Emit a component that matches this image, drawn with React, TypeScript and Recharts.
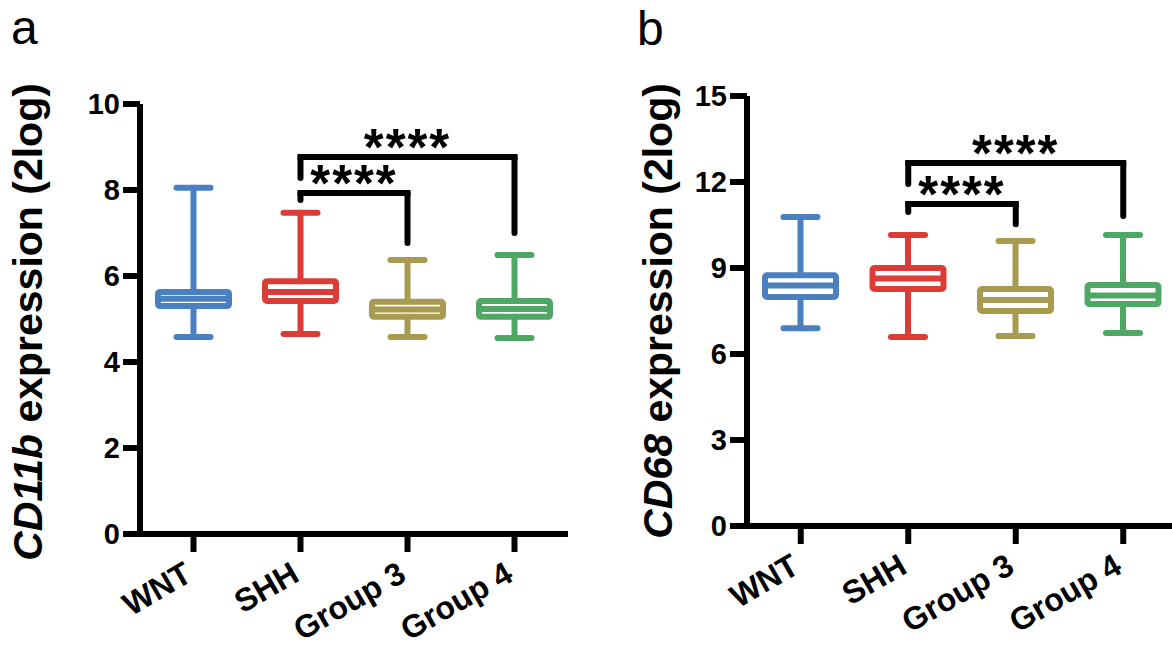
import React from "react";
import { ComposedChart, Bar, XAxis, YAxis, ReferenceLine } from "recharts";

const FONT = "'Liberation Sans', Arial, Helvetica, sans-serif";

const groups = ["WNT", "SHH", "Group 3", "Group 4"];
const groupColors = ["#4A7FC0", "#DB3C35", "#A89A4E", "#4EA764"];

// panel a: CD11b
const cd11bMin = [4.58, 4.65, 4.58, 4.56];
const cd11bQ1 = [5.3, 5.42, 5.05, 5.05];
const cd11bMedian = [5.47, 5.63, 5.22, 5.23];
const cd11bQ3 = [5.63, 5.88, 5.4, 5.42];
const cd11bMax = [8.05, 7.47, 6.37, 6.49];
const cd11bTicks = [0, 2, 4, 6, 8, 10];

// panel b: CD68
const cd68Min = [6.9, 6.59, 6.63, 6.73];
const cd68Q1 = [7.99, 8.27, 7.5, 7.74];
const cd68Median = [8.39, 8.63, 7.88, 8.04];
const cd68Q3 = [8.75, 9.0, 8.27, 8.41];
const cd68Max = [10.78, 10.15, 9.94, 10.15];
const cd68Ticks = [0, 3, 6, 9, 12, 15];

// significance brackets
type Bracket = { from: string; to: string; level: number; fromEnd: number; toEnd: number; text: string };
const cd11bBrackets: Bracket[] = [
  { from: "SHH", to: "Group 3", level: 7.93, fromEnd: 7.77, toEnd: 6.77, text: "****" },
  { from: "SHH", to: "Group 4", level: 8.77, fromEnd: 8.28, toEnd: 7.0, text: "****" },
];
const cd68Brackets: Bracket[] = [
  { from: "SHH", to: "Group 3", level: 11.23, fromEnd: 10.95, toEnd: 10.53, text: "****" },
  { from: "SHH", to: "Group 4", level: 12.66, fromEnd: 11.93, toEnd: 10.81, text: "****" },
];

function buildRows(mins: number[], q1: number[], med: number[], q3: number[], maxs: number[]) {
  return groups.map((name, i) => ({
    name,
    range: [mins[i], maxs[i]],
    min: mins[i],
    q1: q1[i],
    median: med[i],
    q3: q3[i],
    max: maxs[i],
    color: groupColors[i],
  }));
}

function BoxShape(props: any) {
  const { x, y, width, height, payload } = props;
  if (!payload) return null;
  const { min, q1, median, q3, max, color } = payload;
  const top = Math.min(y, y + height);
  const h = Math.abs(height);
  const py = (v: number) => top + (h * (max - v)) / (max - min);
  const cx = x + width / 2;
  const cap = 17;
  return (
    <g stroke={color} strokeWidth={6} fill="none" strokeLinecap="round" strokeLinejoin="round">
      <line x1={cx} x2={cx} y1={py(max)} y2={py(q3)} />
      <line x1={cx} x2={cx} y1={py(q1)} y2={py(min)} />
      <line x1={cx - cap} x2={cx + cap} y1={py(max)} y2={py(max)} />
      <line x1={cx - cap} x2={cx + cap} y1={py(min)} y2={py(min)} />
      <rect x={x} y={py(q3)} width={width} height={py(q1) - py(q3)} rx={2} />
      <line x1={x} x2={x + width} y1={py(median)} y2={py(median)} strokeLinecap="butt" />
    </g>
  );
}

function CategoryTick(props: any) {
  const { x, y, payload } = props;
  const ax = x - 11;
  const ay = y;
  return (
    <text
      x={ax}
      y={ay}
      dy="0.72em"
      textAnchor="end"
      transform={`rotate(-30, ${ax}, ${ay})`}
      fontFamily={FONT}
      fontWeight="bold"
      fontSize={32}
      fill="#000"
    >
      {payload.value}
    </text>
  );
}

function AxisTitle({ tx, ty, gene }: { tx: number; ty: number; gene: string }) {
  return (
    <text
      x={tx}
      y={ty}
      textAnchor="middle"
      transform={`rotate(-90, ${tx}, ${ty})`}
      fontFamily={FONT}
      fontWeight="bold"
      fontSize={41}
      fill="#000"
    >
      <tspan fontStyle="italic">{gene}</tspan>
      {" expression (2log)"}
    </text>
  );
}

function StarLabel(props: any) {
  const { viewBox, value } = props;
  if (!viewBox) return null;
  const cx = viewBox.x + viewBox.width / 2;
  return (
    <text
      x={cx}
      y={viewBox.y + 8}
      textAnchor="middle"
      fontFamily={FONT}
      fontWeight="bold"
      fontSize={51}
      letterSpacing={2}
      fill="#000"
    >
      {value}
    </text>
  );
}

type PanelProps = {
  width: number;
  top: number;
  bottom: number;
  yAxisWidth: number;
  ticks: number[];
  rows: any[];
  brackets: Bracket[];
  gene: string;
  titleX: number;
  titleY: number;
};

function Panel({ width, top, bottom, yAxisWidth, ticks, rows, brackets, gene, titleX, titleY }: PanelProps) {
  const height = 645;
  const line = { stroke: "#000", strokeWidth: 6 };
  return (
    <ComposedChart width={width} height={height} data={rows} margin={{ top, right: 0, bottom: 0, left: 0 }}>
      <XAxis
        dataKey="name"
        type="category"
        height={height - bottom}
        axisLine={line}
        tickLine={line}
        tickSize={18}
        tickMargin={8}
        tick={<CategoryTick />}
        interval={0}
      />
      <YAxis
        type="number"
        domain={[0, ticks[ticks.length - 1]]}
        ticks={ticks}
        width={yAxisWidth}
        axisLine={line}
        tickLine={line}
        tickSize={17}
        tickMargin={3}
        tick={{ fontFamily: FONT, fontWeight: "bold", fontSize: 29, fill: "#000" }}
        label={<AxisTitle tx={titleX} ty={titleY} gene={gene} />}
      />
      <Bar dataKey="range" barSize={71} shape={(p: any) => <BoxShape {...p} />} isAnimationActive={false} />
      {brackets.map((b, i) => (
        <ReferenceLine
          key={`l${i}`}
          segment={[
            { x: b.from, y: b.fromEnd },
            { x: b.from, y: b.level },
          ]}
          stroke="#000"
          strokeWidth={6}
          strokeLinecap="round"
        />
      ))}
      {brackets.map((b, i) => (
        <ReferenceLine
          key={`h${i}`}
          segment={[
            { x: b.from, y: b.level },
            { x: b.to, y: b.level },
          ]}
          stroke="#000"
          strokeWidth={6}
          strokeLinecap="square"
          label={<StarLabel value={b.text} />}
        />
      ))}
      {brackets.map((b, i) => (
        <ReferenceLine
          key={`r${i}`}
          segment={[
            { x: b.to, y: b.level },
            { x: b.to, y: b.toEnd },
          ]}
          stroke="#000"
          strokeWidth={6}
          strokeLinecap="round"
        />
      ))}
    </ComposedChart>
  );
}

const cd11bRows = buildRows(cd11bMin, cd11bQ1, cd11bMedian, cd11bQ3, cd11bMax);
const cd68Rows = buildRows(cd68Min, cd68Q1, cd68Median, cd68Q3, cd68Max);

const letterStyle: React.CSSProperties = {
  position: "absolute",
  fontFamily: FONT,
  fontSize: 48,
  lineHeight: "48px",
  color: "#000",
};

export default function App() {
  return (
    <div
      style={{
        position: "absolute",
        left: 0,
        top: 0,
        width: 1172,
        height: 645,
        overflow: "hidden",
        background: "#fff",
      }}
    >
      <div style={{ ...letterStyle, left: 11, top: 4 }}>a</div>
      <div style={{ ...letterStyle, left: 637, top: 5 }}>b</div>
      <div style={{ position: "absolute", left: 0, top: 0 }}>
        <Panel
          width={568}
          top={104}
          bottom={534}
          yAxisWidth={140}
          ticks={cd11bTicks}
          rows={cd11bRows}
          brackets={cd11bBrackets}
          gene="CD11b"
          titleX={42}
          titleY={322}
        />
      </div>
      <div style={{ position: "absolute", left: 586, top: 0 }}>
        <Panel
          width={591}
          top={96}
          bottom={526}
          yAxisWidth={161}
          ticks={cd68Ticks}
          rows={cd68Rows}
          brackets={cd68Brackets}
          gene="CD68"
          titleX={86}
          titleY={311}
        />
      </div>
    </div>
  );
}
